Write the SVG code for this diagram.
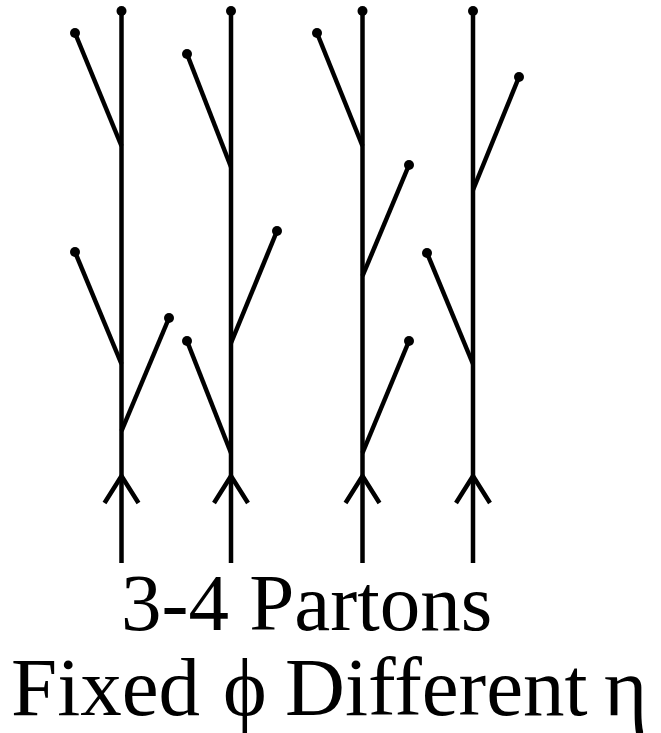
<svg xmlns="http://www.w3.org/2000/svg" width="661" height="733" viewBox="0 0 661 733">
  <style>
    .ln { stroke: #000; stroke-width: 4.5; fill: none; stroke-linecap: butt; }
    .dot { fill: #000; }
    .lbl { font-family: "Liberation Serif", "Times New Roman", serif; fill: #000; }
  </style>
  <defs>
    <circle id="end" r="5" class="dot"/>
  </defs>

  <g id="connectors">
    <!-- parton stems with incoming arrows -->
    <g id="tree1">
      <line class="ln" x1="121.5" y1="11" x2="121.5" y2="563"/>
      <polyline class="ln" points="104.5,503 121.5,476 138.5,503"/>
      <line class="ln" x1="75" y1="33" x2="121.5" y2="146"/>
      <line class="ln" x1="75" y1="252" x2="121.5" y2="364"/>
      <line class="ln" x1="169" y1="318" x2="121.5" y2="431"/>
      <use href="#end" x="121.5" y="11"/>
      <use href="#end" x="75" y="33"/>
      <use href="#end" x="75" y="252"/>
      <use href="#end" x="169" y="318"/>
    </g>
    <g id="tree2">
      <line class="ln" x1="231" y1="11" x2="231" y2="563"/>
      <polyline class="ln" points="214,503 231,476 248,503"/>
      <line class="ln" x1="187" y1="54" x2="231" y2="167"/>
      <line class="ln" x1="277" y1="231" x2="231" y2="343"/>
      <line class="ln" x1="187" y1="341" x2="231" y2="453"/>
      <use href="#end" x="231" y="11"/>
      <use href="#end" x="187" y="54"/>
      <use href="#end" x="277" y="231"/>
      <use href="#end" x="187" y="341"/>
    </g>
    <g id="tree3">
      <line class="ln" x1="362.5" y1="11" x2="362.5" y2="563"/>
      <polyline class="ln" points="345.5,503 362.5,476 379.5,503"/>
      <line class="ln" x1="317" y1="33" x2="362.5" y2="146"/>
      <line class="ln" x1="409" y1="165" x2="362.5" y2="276"/>
      <line class="ln" x1="409" y1="341" x2="362.5" y2="453"/>
      <use href="#end" x="362.5" y="11"/>
      <use href="#end" x="317" y="33"/>
      <use href="#end" x="409" y="165"/>
      <use href="#end" x="409" y="341"/>
    </g>
    <g id="tree4">
      <line class="ln" x1="473" y1="11" x2="473" y2="563"/>
      <polyline class="ln" points="456,503 473,476 490,503"/>
      <line class="ln" x1="519" y1="77" x2="473" y2="190"/>
      <line class="ln" x1="427" y1="253" x2="473" y2="364"/>
      <use href="#end" x="473" y="11"/>
      <use href="#end" x="519" y="77"/>
      <use href="#end" x="427" y="253"/>
    </g>
  </g>

  <g id="caption">
    <text class="lbl" x="121" y="630" font-size="81">3-4 Partons</text>
    <text class="lbl" y="715" font-size="83"><tspan x="11">Fixed</tspan> <tspan x="223">ϕ</tspan> <tspan x="285">Different</tspan> <tspan x="604">η</tspan></text>
  </g>
</svg>
